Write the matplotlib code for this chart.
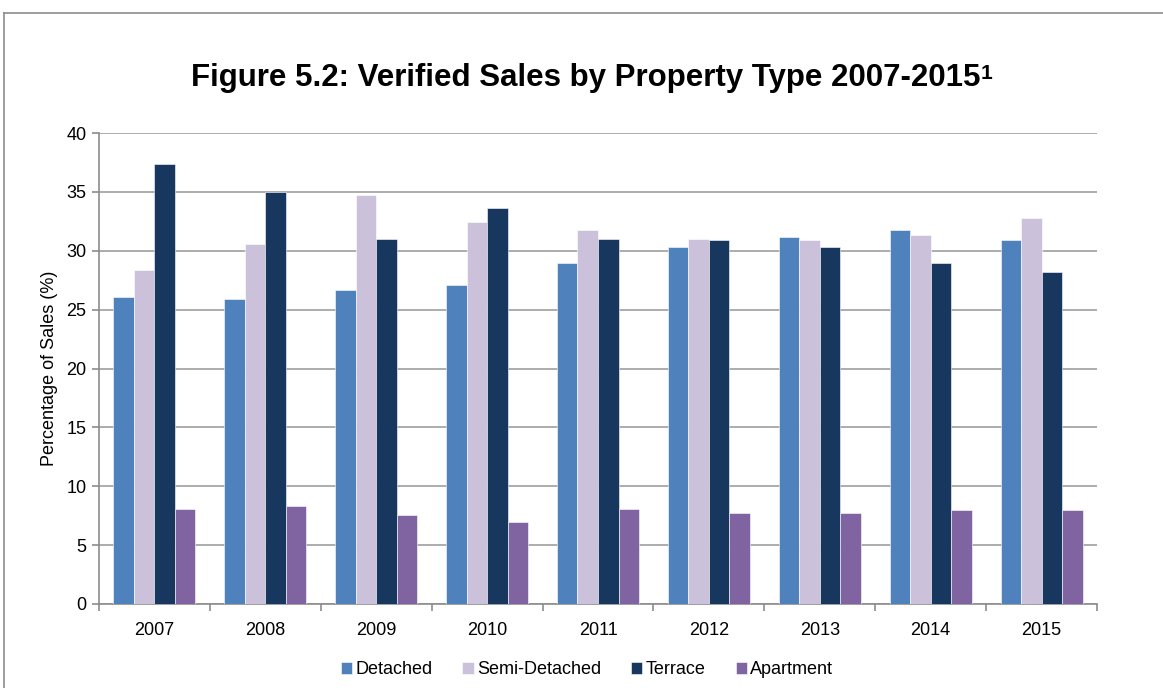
import matplotlib
matplotlib.use("Agg")
import matplotlib.pyplot as plt
import numpy as np
from matplotlib.lines import Line2D

plt.rcParams['font.family'] = ['Liberation Sans', 'DejaVu Sans']

years = ['2007', '2008', '2009', '2010', '2011', '2012', '2013', '2014', '2015']
detached = [26.1, 25.9, 26.7, 27.1, 29.0, 30.3, 31.2, 31.8, 30.9]
semi_detached = [28.4, 30.6, 34.7, 32.4, 31.8, 31.0, 30.9, 31.3, 32.8]
terrace = [37.4, 35.0, 31.0, 33.6, 31.0, 30.9, 30.3, 29.0, 28.2]
apartment = [8.1, 8.3, 7.6, 7.0, 8.1, 7.7, 7.7, 8.0, 8.0]

series = [
    ('Detached', detached, '#4F81BD'),
    ('Semi-Detached', semi_detached, '#CCC1DA'),
    ('Terrace', terrace, '#17375E'),
    ('Apartment', apartment, '#8064A2'),
]

W, H = 1163, 688
fig = plt.figure(figsize=(W / 100, H / 100), dpi=100)
ax = fig.add_axes([99 / W, 1 - 604 / H, 998 / W, 471 / H])

x = np.arange(len(years))
bw = 0.185
for i, (name, vals, col) in enumerate(series):
    ax.bar(x + (i - 1.5) * bw, vals, width=bw, color=col, label=name,
           edgecolor='white', linewidth=0.4, zorder=3)

ax.set_xlim(-0.5, len(years) - 0.5)
ax.set_ylim(0, 40)
ax.set_yticks(range(0, 41, 5))
ax.set_xticks(x)
ax.set_xticklabels(years)
ax.set_xticks(np.arange(-0.5, len(years)), minor=True)
ax.tick_params(axis='x', which='major', length=0, pad=13, labelsize=13)
ax.tick_params(axis='x', which='minor', length=5, color='#8C8C8C', width=1.2)
ax.tick_params(axis='y', length=5, color='#8C8C8C', width=1.2, labelsize=13, pad=4)

ax.grid(axis='y', color='#A6A6A6', linewidth=1.3, zorder=0)
ax.set_axisbelow(True)
for s in ['top', 'right']:
    ax.spines[s].set_visible(False)
for s in ['left', 'bottom']:
    ax.spines[s].set_color('#8C8C8C')
    ax.spines[s].set_linewidth(1.2)

ax.set_ylabel('Percentage of Sales (%)', fontsize=13, labelpad=6)

# title with a superscript footnote marker
title = fig.text(586 / W, 1 - 78 / H, 'Figure 5.2: Verified Sales by Property Type 2007-2015',
                 ha='center', va='center', fontsize=22.5, fontweight='bold')
renderer = fig.canvas.get_renderer()
bb = title.get_window_extent(renderer)
fig.text(bb.x1, bb.y1 - 1, '1', ha='left', va='top', fontsize=15,
         fontweight='bold', transform=None)

fig.legend(loc='center', bbox_to_anchor=(587 / W, 1 - 670 / H), ncol=4,
           frameon=False, fontsize=13, handlelength=0.62, handleheight=0.62,
           handletextpad=0.2, columnspacing=1.65, borderaxespad=0, borderpad=0)

# chart area border (top and left edges visible)
fig.add_artist(Line2D([4 / W, 1.0], [1 - 13 / H, 1 - 13 / H], transform=fig.transFigure,
                      color='#8C8C8C', linewidth=1.2))
fig.add_artist(Line2D([4 / W, 4 / W], [0.0, 1 - 13 / H], transform=fig.transFigure,
                      color='#8C8C8C', linewidth=1.2))

fig.savefig('out.png', dpi=100)
